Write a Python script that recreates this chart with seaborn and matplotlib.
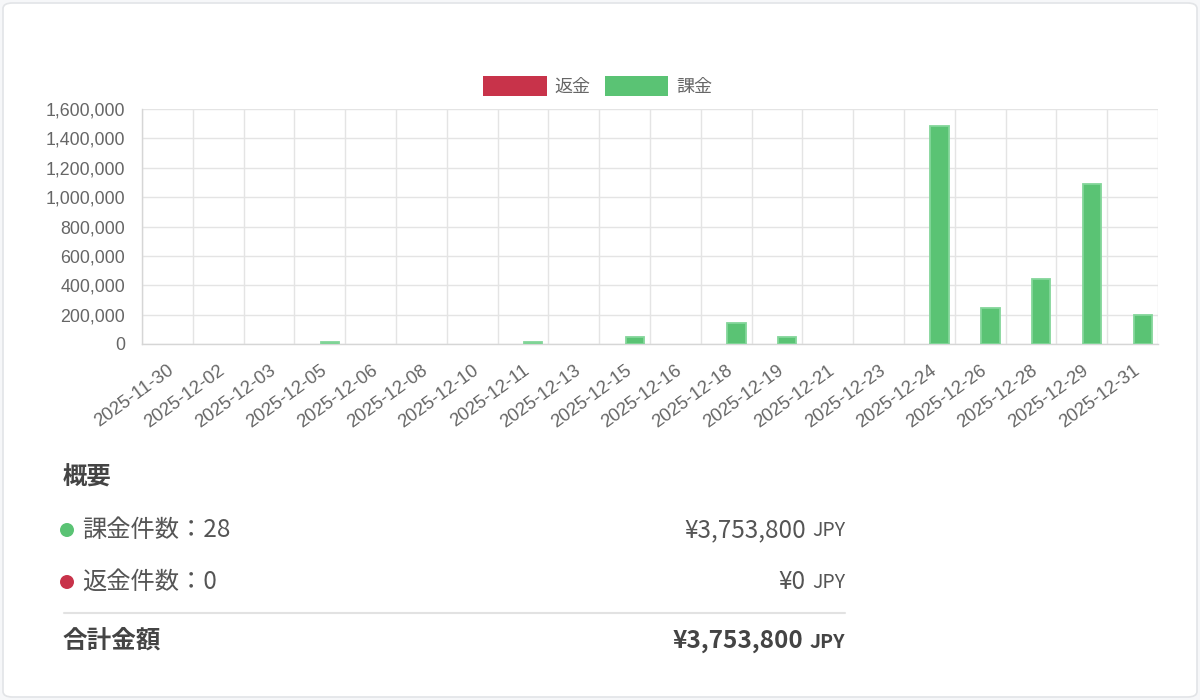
import matplotlib
matplotlib.use("Agg")
import matplotlib.pyplot as plt
import matplotlib.ticker as mticker
from matplotlib.patches import FancyBboxPatch, Rectangle, Ellipse
from matplotlib.lines import Line2D
import seaborn as sns
import pandas as pd

# ---------------- data ----------------
dates = ["2025-11-30", "2025-12-02", "2025-12-03", "2025-12-05", "2025-12-06",
         "2025-12-08", "2025-12-10", "2025-12-11", "2025-12-13", "2025-12-15",
         "2025-12-16", "2025-12-18", "2025-12-19", "2025-12-21", "2025-12-23",
         "2025-12-24", "2025-12-26", "2025-12-28", "2025-12-29", "2025-12-31"]
charge_values = [0, 0, 0, 15000, 0, 0, 0, 15000, 0, 46000,
                 0, 144000, 45000, 0, 0, 1483000, 244000, 445000, 1088000, 195000]
refund_values = [0] * 20
series_names = ["返金", "課金"]
series_colors = {"返金": "#c8334a", "課金": "#5ac374"}
y_ticks = [0, 200000, 400000, 600000, 800000, 1000000, 1200000, 1400000, 1600000]

summary_title = "概要"
charge_label = "課金件数"
refund_label = "返金件数"
charge_count = 28
refund_count = 0
charge_total = 3753800
refund_total = 0
total_label = "合計金額"
grand_total = 3753800
currency = "JPY"

# ---------------- build table ----------------
rows = []
for d, r, c in zip(dates, refund_values, charge_values):
    rows.append({"date": d, "type": "返金", "amount": r})
    rows.append({"date": d, "type": "課金", "amount": c})
df = pd.DataFrame(rows)

sns.set_theme(style="white")
plt.rcParams["font.family"] = ["Liberation Sans", "Noto Sans CJK JP", "DejaVu Sans"]

W, H = 1200, 700
fig = plt.figure(figsize=(12, 7), dpi=100)
fig.patch.set_facecolor("#f6f7f9")

def fx(px):
    return px / W

def fy(py):
    return 1 - py / H

# card background
card = FancyBboxPatch((fx(3), fy(697)), fx(1194), (694) / H,
                      boxstyle="round,pad=0,rounding_size=0.008",
                      transform=fig.transFigure, facecolor="white",
                      edgecolor="#e2e4e7", linewidth=1.2, zorder=-5)
fig.patches.append(card)

ax = fig.add_axes([fx(142), fy(344), fx(1158 - 142), (344 - 109) / H])
ax.set_facecolor("none")

sns.barplot(data=df, x="date", y="amount", hue="type", order=dates,
            hue_order=series_names, palette=series_colors, width=0.8, gap=0.1,
            edgecolor="#84d69a", linewidth=1.3, legend=False, ax=ax, zorder=3,
            saturation=1)
for p in ax.patches:
    if p.get_height() == 0:
        p.set_linewidth(0)

ax.set_xlim(-0.5, len(dates) - 0.5)
ax.set_ylim(0, 1600000)
ax.set_yticks(y_ticks)
ax.yaxis.set_major_formatter(mticker.FuncFormatter(lambda v, p: f"{int(v):,}"))
ax.set_xlabel("")
ax.set_ylabel("")

# grid
grid_c = "#e4e4e4"
ax.set_axisbelow(True)
ax.set_xticks([i - 0.5 for i in range(len(dates) + 1)], minor=True)
ax.grid(True, which="minor", axis="x", color=grid_c, linewidth=1.0, zorder=0)
ax.grid(True, which="major", axis="y", color=grid_c, linewidth=1.0, zorder=0)
ax.grid(False, which="major", axis="x")
ax.tick_params(axis="x", which="minor", length=6, color=grid_c, width=1.0)
ax.tick_params(axis="x", which="major", length=0, pad=13, labelsize=13.3, labelcolor="#666666")
ax.tick_params(axis="y", which="major", length=6, color=grid_c, width=1.0, pad=6,
               labelsize=12.8, labelcolor="#666666")
ax.set_xticks(range(len(dates)))
ax.set_xticklabels(dates, rotation=36, ha="right", rotation_mode="anchor")
for lab in ax.get_xticklabels():
    lab.set_x(lab.get_position()[0])

for side in ["top", "right"]:
    ax.spines[side].set_visible(False)
ax.spines["left"].set_color("#d6d6d6")
ax.spines["bottom"].set_color("#d6d6d6")
ax.spines["left"].set_linewidth(1.0)
ax.spines["bottom"].set_linewidth(1.0)

# legend
handles = [Rectangle((0, 0), 1, 1, facecolor=series_colors[n], edgecolor="none") for n in series_names]
leg = fig.legend(handles, series_names, loc="center", bbox_to_anchor=(fx(598), fy(86)),
                 ncol=2, frameon=False, fontsize=13, handlelength=3.5, handleheight=1.3,
                 handletextpad=0.45, columnspacing=0.8, labelcolor="#666666",
                 borderaxespad=0, borderpad=0)

# ---------------- summary ----------------
cjk = ["Noto Sans CJK JP", "DejaVu Sans"]
dark = "#444444"
mid = "#555555"
renderer = fig.canvas.get_renderer()

fig.text(fx(63), fy(478), summary_title, family=cjk, fontsize=17.6, fontweight="bold",
         color=dark, ha="left", va="center")

def row(y, color, label, count, amount, bold=False):
    if color is not None:
        fig.patches.append(Ellipse((fx(67), fy(y)), fx(14), 14 / H, transform=fig.transFigure,
                                   facecolor=color, edgecolor="none"))
        fig.text(fx(82), fy(y), f"{label}：{count}", family=cjk, fontsize=17.5, color=mid,
                 ha="left", va="center")
    else:
        fig.text(fx(63), fy(y), label, family=cjk, fontsize=17.7, fontweight="bold",
                 color=dark, ha="left", va="center")
    w = "bold" if bold else "normal"
    c = dark if bold else mid
    t = fig.text(fx(845), fy(y + 1), currency, family=cjk, fontsize=14, fontweight=w,
                 color=c, ha="right", va="center")
    bb = t.get_window_extent(renderer)
    x_end = bb.x0 - 6
    fig.text(x_end / W, fy(y), f"¥{amount:,}", family=cjk, fontsize=17.5, fontweight=w,
             color=c, ha="right", va="center")

row(530, series_colors["課金"], charge_label, charge_count, charge_total)
row(582, series_colors["返金"], refund_label, refund_count, refund_total)
fig.lines.append(Line2D([fx(64), fx(845)], [fy(613), fy(613)], transform=fig.transFigure,
                        color="#e2e2e2", linewidth=1.5))
row(641, None, total_label, None, grand_total, bold=True)

fig.savefig("out.png", dpi=100, facecolor=fig.get_facecolor())
